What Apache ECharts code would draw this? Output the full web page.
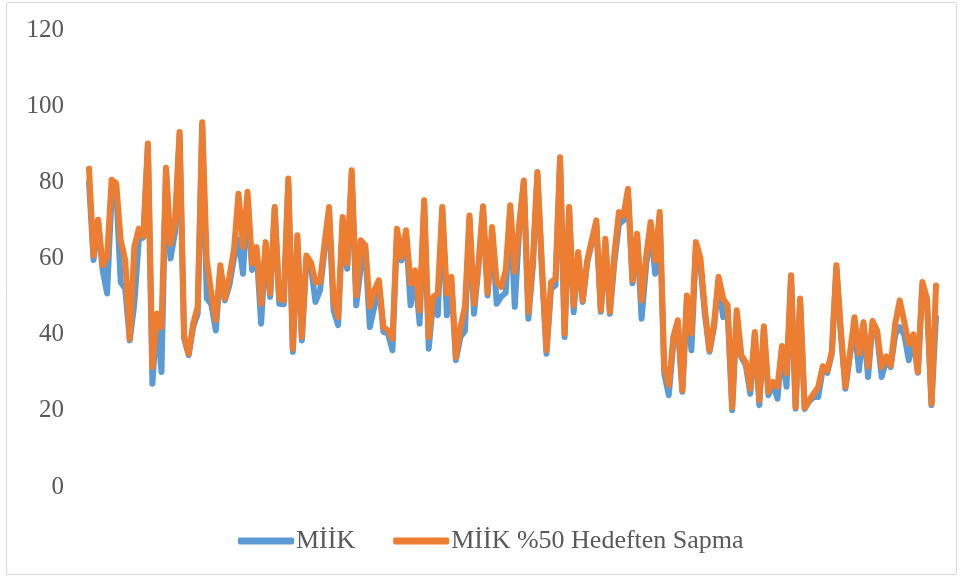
<!DOCTYPE html>
<html>
<head>
<meta charset="utf-8">
<script src="https://cdn.jsdelivr.net/npm/echarts@6/dist/echarts.min.js"></script>
<style>
  html, body { margin: 0; padding: 0; background: #fff; }
  #chart { width: 962px; height: 578px; }
</style>
</head>
<body>
<div id="chart"></div>
<script>
// values, point by point (188 points)
var hedefSapma = [
  83.6, 60.8, 70.2, 58.2, 60.4, 80.7, 79.8, 64.8, 59.5, 38.9,
  63, 67.8, 65.8, 90.2, 31.5, 45.5, 42, 83.8, 63.9, 70,
  93.2, 39.4, 35, 42.9, 47.3, 95.8, 59.5, 50.8, 43.8, 58.2,
  49.5, 55.2, 62.2, 77, 63, 77.5, 58.7, 63, 48.1, 64.3,
  50.9, 73.5, 49.5, 49, 81, 36.3, 66.1,
  39.4, 60.8, 59, 53.8, 53.8, 63.9, 73.5, 49, 44.6, 70.9,
  58.6, 83.2, 50.3, 64.8, 63.5, 47.3, 51.6, 54.3, 42, 41.1,
  38.9, 67.8, 60.4, 67.4, 53.4, 56.9, 46.4, 75.3, 39.4, 49.9,
  50.8, 73.5, 50.8, 55.2, 34.1, 42, 47.3, 71.3, 48.1, 58.6,
  73.7, 51, 68.3, 53.8, 52.5, 56.9,
  74, 56.5, 69.2, 80.5, 46, 59.5, 82.7, 57.8, 35.9, 53.8,
  54.7, 86.6, 40.3, 73.5, 47.7, 61.7, 49, 59.5, 64.8, 70,
  46.4, 65.2, 46, 61.3, 72.2, 71.3, 78.3, 54.3, 66.5, 49,
  60.4, 69.6, 59.5, 72.2, 31.5, 26.7, 39.4, 43.8, 25.4, 50.3,
  40.3, 64.3, 60, 46.4, 35.9, 42.9, 55.2,
  49.5, 47.7, 21, 46.4, 34.6, 32.8, 25.8, 40.7, 22.8, 42.2,
  25, 27.6, 26.3, 37, 29.8, 55.6, 21, 49.5, 20.8, 22.8,
  24.5, 26.3, 31.7, 30.6, 35.5, 58.2, 41.1, 26.3, 35, 44.6,
  35, 43.3, 31.5, 43.6, 41.1, 31.5, 34.3, 31.9, 42.9, 49,
  43.3, 37.6, 40.1, 30.2, 53.8, 49.5, 21.9, 52.9
]
var miik = [
  80, 59.6, 70, 57, 50.8, 77, 78, 53.8, 52, 38.5,
  48, 65, 65.5, 89.5, 27.1, 45, 30.2, 83, 60, 67,
  92.5, 39, 34.6, 42, 45.5, 95, 49.5, 48, 41.1, 57,
  49, 53, 60, 65, 56, 76, 57, 62, 42.9, 63,
  49.9, 73, 48.1, 48, 80, 35.5, 65,
  38.5, 60, 57.8, 48.6, 51.6, 62, 72, 46.4, 42.5, 70,
  57.3, 82, 47.7, 57.8, 62, 42, 47.3, 53.5, 40.7, 40.3,
  35.9, 66.5, 59.5, 66, 47.7, 56, 42.9, 74.5, 36.3, 49,
  45.1, 73, 45.1, 54, 33.3, 39.4, 41, 70.5, 45.5, 58,
  73, 50.3, 67, 48.1, 50, 51,
  73, 47.3, 68, 80, 44.2, 58, 82, 57, 35, 52,
  53, 86, 39.4, 73, 45.9, 60.5, 48.6, 59, 64, 69,
  46, 64, 45.5, 59, 69, 70, 77, 53.5, 66, 44.2,
  58, 68, 56, 71, 29.8, 24.1, 37.6, 43, 25, 49,
  35.9, 63, 58, 45, 35.5, 42, 54,
  44.6, 46, 20.2, 45.5, 34.1, 32, 24.5, 40, 21.5, 41.5,
  24.1, 27.1, 23.2, 36.5, 26.3, 55, 20.6, 49, 20.5, 22.5,
  23.6, 23.6, 31, 30, 35, 57.5, 40, 25.8, 34.5, 42,
  30.6, 42.5, 28.9, 43, 40, 28.9, 33.3, 31.5, 40, 42,
  40, 33.3, 39, 30, 53, 49, 21.5, 44.6
]
var categories = hedefSapma.map(function (v, i) { return i + 1 })
var seriesNames = ['MİİK', 'MİİK %50 Hedeften Sapma']

var chart = echarts.init(document.getElementById('chart'), null, { renderer: 'canvas' })
var font = '"Liberation Serif", "Times New Roman", serif'

chart.setOption({
  animation: false,
  backgroundColor: '#fff',
  color: ['#5B9BD5', '#ED7D31'],
  graphic: [{
    type: 'rect',
    shape: { x: 6.5, y: 2.5, width: 950, height: 572 },
    style: { fill: 'none', stroke: '#d9d9d9', lineWidth: 1 },
    silent: true
  }],
  grid: {
    left: 89,
    right: 26,
    top: 30,
    bottom: 91
  },
  legend: {
    data: seriesNames,
    left: 233,
    top: 523,
    icon: 'roundRect',
    itemWidth: 56,
    itemHeight: 7,
    itemGap: 38,
    textStyle: {
      fontFamily: font,
      fontSize: 26,
      color: '#595959',
      padding: [0, 0, 0, -3]
    }
  },
  xAxis: {
    type: 'category',
    data: categories,
    boundaryGap: false,
    axisLine: { show: false },
    axisTick: { show: false },
    axisLabel: { show: false },
    splitLine: { show: false }
  },
  yAxis: {
    type: 'value',
    min: 0,
    max: 120,
    interval: 20,
    axisLine: { show: false },
    axisTick: { show: false },
    splitLine: { show: false },
    axisLabel: {
      margin: 25,
      fontFamily: font,
      fontSize: 25,
      color: '#595959'
    }
  },
  series: [{
    name: seriesNames[0],
    type: 'line',
    data: miik,
    symbol: 'none',
    lineStyle: { width: 6, join: 'round', cap: 'round' }
  }, {
    name: seriesNames[1],
    type: 'line',
    data: hedefSapma,
    symbol: 'none',
    lineStyle: { width: 6, join: 'round', cap: 'round' }
  }]
})
</script>
</body>
</html>
